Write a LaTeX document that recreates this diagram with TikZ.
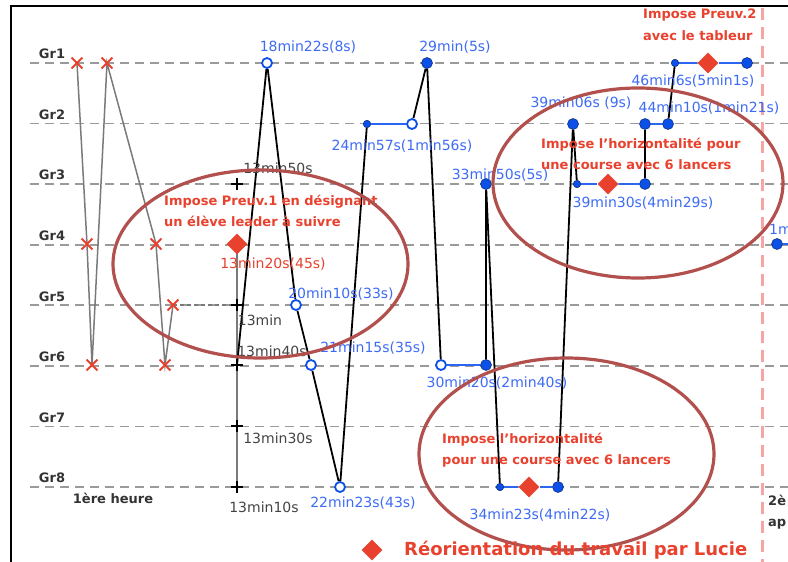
\documentclass[tikz,border=0pt]{standalone}
\usepackage{fontspec}
\setmainfont{DejaVu Sans}
\usepackage{tikz}
\usetikzlibrary{shapes.geometric,shapes.misc,backgrounds}

\definecolor{GridGrey}{HTML}{9A9A9A}
\definecolor{GroupGrey}{HTML}{333333}
\definecolor{PathGrey}{HTML}{7A7A7A}
\definecolor{TickGrey}{HTML}{444444}
\definecolor{LabelBlue}{HTML}{3D6BF5}
\definecolor{DotBlue}{HTML}{0C50E8}
\definecolor{DotEdge}{HTML}{06246E}
\definecolor{LinkBlue}{HTML}{2A66F2}
\definecolor{MarkRed}{HTML}{E8412E}
\definecolor{RingRed}{HTML}{B2504D}
\definecolor{BreakPink}{HTML}{F6A4A4}

\tikzset{
    % Group lines
    gridline/.style={
        draw=GridGrey,
        line width=1.8pt,
        dash pattern=on 9pt off 6pt
    },
    grouplabel/.style={
        font=\bfseries\fontsize{13}{15}\selectfont,
        text=GroupGrey,
        inner sep=0pt
    },
    % First hour
    crossmark/.style={
        cross out,
        draw=MarkRed,
        line width=1.8pt,
        minimum size=9pt,
        inner sep=0pt
    },
    greylink/.style={
        draw=PathGrey,
        line width=1.5pt
    },
    tickmark/.style={
        cross out,
        rotate=45,
        draw=black,
        line width=1.2pt,
        minimum size=7pt,
        inner sep=0pt
    },
    ticklabel/.style={
        font=\fontsize{14}{16}\selectfont,
        text=TickGrey,
        inner sep=0pt
    },
    % Second part
    opendot/.style={
        circle,
        draw=DotBlue,
        fill=white,
        line width=1.8pt,
        minimum size=10pt,
        inner sep=0pt
    },
    bigdot/.style={
        circle,
        draw=DotEdge,
        fill=DotBlue,
        line width=0.5pt,
        minimum size=11pt,
        inner sep=0pt
    },
    smalldot/.style={
        bigdot,
        minimum size=7.5pt
    },
    redmark/.style={
        diamond,
        fill=MarkRed,
        minimum width=21pt,
        minimum height=21pt,
        inner sep=0pt
    },
    timelabel/.style={
        font=\fontsize{14}{16}\selectfont,
        text=LabelBlue,
        inner sep=0pt
    },
    blacklink/.style={
        draw=black,
        line width=1.8pt
    },
    bluelink/.style={
        draw=LinkBlue,
        line width=1.8pt
    },
    % Annotations
    notelabel/.style={
        font=\bfseries\fontsize{13}{21.5}\selectfont,
        text=MarkRed,
        align=left,
        anchor=west,
        inner sep=0pt
    },
    ring/.style={
        draw=RingRed,
        line width=3.2pt
    }
}

\begin{document}
\begin{tikzpicture}[x=1pt, y=-1pt]
        \useasboundingbox (0,0) rectangle (788,562);
        \draw[line width=2pt] (11,562) -- (11,6) -- (788,6);

        % Groups
        \begin{scope}[on background layer]
            \foreach \i in {1,...,8} {
                \pgfmathsetmacro{\gy}{63+60.57*(\i-1)}
                \draw[gridline] (30,\gy) -- (788,\gy);
                \node[grouplabel] (gr\i) at (52,\gy-9) {Gr\i};
            }
            \draw[draw=BreakPink, line width=3pt, dash pattern=on 12pt off 7pt] (762,8) -- (762,562);
        \end{scope}

        % First hour
        \node[crossmark] (x1) at (77,63) {};
        \node[crossmark] (x2) at (107,63) {};
        \node[crossmark] (x3) at (87,244) {};
        \node[crossmark] (x4) at (156,244) {};
        \node[crossmark] (x5) at (173,305) {};
        \node[crossmark] (x6) at (92,365) {};
        \node[crossmark] (x7) at (165,365) {};
        \node[grouplabel] (first) at (113,498) {1ère heure};

        % Time axis
        \node[redmark] (lead) at (237,244) {};
        \node[tickmark] (t3) at (237,184) {};
        \node[tickmark] (t5) at (237,305) {};
        \node[tickmark] (t6) at (237,365) {};
        \node[tickmark] (t7) at (237,426) {};
        \node[tickmark] (t8) at (237,487) {};
        \node[ticklabel] (l50) at (278,168) {13min50s};
        \node[timelabel, text=MarkRed] (l20) at (273,264) {13min20s(45s)};
        \node[ticklabel] (l00) at (260,320) {13min};
        \node[ticklabel] (l40) at (272,351) {13min40s};
        \node[ticklabel] (l30) at (278,438) {13min30s};
        \node[ticklabel] (l10) at (264,507) {13min10s};

        % Course of the second part
        \node[opendot] (b1) at (267,63) {};
        \node[opendot] (b2) at (296,305) {};
        \node[opendot] (b3) at (311,365) {};
        \node[opendot] (b4) at (340,487) {};
        \node[smalldot] (b5) at (367,124) {};
        \node[opendot] (b6) at (412,124) {};
        \node[bigdot] (b7) at (427,63) {};
        \node[opendot] (b8) at (441,365) {};
        \node[bigdot] (b9) at (486,365) {};
        \node[bigdot] (b10) at (486,184) {};
        \node[smalldot] (b11) at (500,487) {};
        \node[redmark] (d1) at (529,487) {};
        \node[bigdot] (b12) at (558,487) {};
        \node[bigdot] (b13) at (573,124) {};
        \node[smalldot] (b14) at (577,184) {};
        \node[redmark] (d2) at (608,184) {};
        \node[bigdot] (b15) at (645,184) {};
        \node[bigdot] (b16) at (645,124) {};
        \node[bigdot] (b17) at (668,124) {};
        \node[smalldot] (b18) at (675,63) {};
        \node[redmark] (d3) at (708,63) {};
        \node[bigdot] (b19) at (747,63) {};
        \node[bigdot] (b20) at (777,244) {};
        \coordinate (edge) at (788,244);

        % Times
        \node[timelabel] (n1) at (308,47) {18min22s(8s)};
        \node[timelabel] (n2) at (341,294) {20min10s(33s)};
        \node[timelabel] (n3) at (373,348) {21min15s(35s)};
        \node[timelabel] (n4) at (363,503) {22min23s(43s)};
        \node[timelabel] (n5) at (402,146) {24min57s(1min56s)};
        \node[timelabel] (n6) at (455,47) {29min(5s)};
        \node[timelabel] (n7) at (497,383) {30min20s(2min40s)};
        \node[timelabel] (n8) at (500,175) {33min50s(5s)};
        \node[timelabel] (n9) at (540,515) {34min23s(4min22s)};
        \node[timelabel] (n10) at (581,103) {39min06s (9s)};
        \node[timelabel] (n11) at (643,203) {39min30s(4min29s)};
        \node[timelabel] (n12) at (709,108) {44min10s(1min21s)};
        \node[timelabel] (n13) at (693,81) {46min6s(5min1s)};
        \node[timelabel, anchor=west] (n14) at (769,229) {1m};
        \node[grouplabel, align=left, anchor=west, font=\bfseries\fontsize{13}{21}\selectfont] (second) at (768,512) {2è\\ap};

        % Links
        \begin{scope}[on background layer]
            \draw[greylink] (x1.center) -- (x3.center) -- (x6.center) -- (x2.center) -- (x4.center) -- (x7.center) -- (x5.center);
            \draw[PathGrey, line width=1.2pt, dash pattern=on 4pt off 3pt] (x5.center) -- (t5.center);
            \draw[greylink] (lead.center) -- (t8.center);
            \draw[blacklink] (t6.center) -- (b1) -- (b2) -- (b3) -- (b4) -- (b5);
            \draw[bluelink] (b5) -- (b6);
            \draw[blacklink] (b6) -- (b7) -- (b8);
            \draw[bluelink] (b8) -- (b9);
            \draw[blacklink] (b9) -- (b10) -- (b11);
            \draw[bluelink] (b11) -- (d1) -- (b12);
            \draw[blacklink] (b12) -- (b13) -- (b14);
            \draw[bluelink] (b14) -- (d2) -- (b15);
            \draw[blacklink] (b15) -- (b16);
            \draw[bluelink] (b16) -- (b17);
            \draw[blacklink] (b17) -- (b18);
            \draw[bluelink] (b18) -- (d3) -- (b19);
            \draw[bluelink] (b20) -- (edge);
        \end{scope}

        % Interventions
        \node[notelabel] (preuv1) at (164,211) {Impose Preuv.1 en désignant\\un élève leader à suivre};
        \node[notelabel] (horiz1) at (541,154) {Impose l'horizontalité pour\\une course avec 6 lancers};
        \node[notelabel] (horiz2) at (442,450) {Impose l'horizontalité\\pour une course avec 6 lancers};
        \node[notelabel] (preuv2) at (643,25) {Impose Preuv.2\\avec le tableur};
        \draw[ring] (260.5,264) ellipse [x radius=147.5pt, y radius=94pt];
        \draw[ring] (638,183) ellipse [x radius=145pt, y radius=95pt];
        \draw[ring] (566.5,454) ellipse [x radius=147.5pt, y radius=96pt];

        % Key
        \node[redmark] (key) at (372,550) {};
        \node[notelabel, font=\bfseries\fontsize{18}{21}\selectfont] (keytext) at (404,550) {Réorientation du travail par Lucie};
    \end{tikzpicture}
\end{document}
